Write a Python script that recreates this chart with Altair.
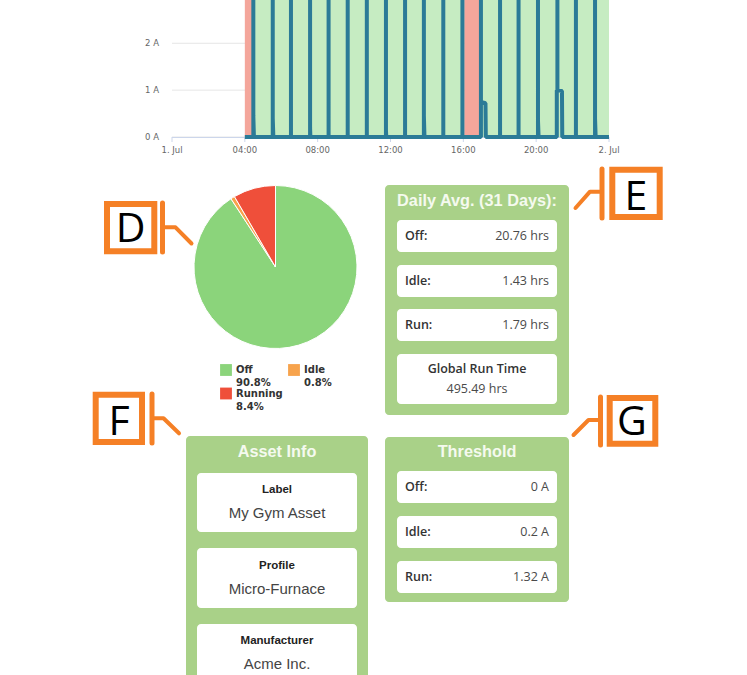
import altair as alt
import pandas as pd

# ------------------------------------------------------------------ data
DAY = "2024-07-01"

tick_hours = [0, 4, 8, 12, 16, 20, 24]
tick_labels = ["1. Jul", "04:00", "08:00", "12:00", "16:00", "20:00", "2. Jul"]

amp_ticks = [0, 1, 2, 3]
amp_labels = ["0 A", "1 A", "2 A", "3 A"]

band_start = ["04:00", "04:28", "16:03", "16:56"]
band_end = ["04:28", "16:03", "16:56", "24:00"]
band_state = ["Running", "Off", "Running", "Off"]

current_times = [
    "04:00",
    "04:28", "04:28", "04:28", "04:30",
    "05:32", "05:32", "05:32", "05:34",
    "06:32", "06:32", "06:32",
    "07:35", "07:35", "07:35", "07:36",
    "08:36", "08:36", "08:36",
    "09:39", "09:39", "09:39",
    "10:42", "10:42", "10:42",
    "11:45", "11:45", "11:45", "11:46",
    "12:48", "12:48", "12:48",
    "13:50", "13:50", "13:50", "13:52",
    "14:54", "14:54", "14:54",
    "15:57", "15:57", "15:57",
    "16:58", "16:58", "16:58", "17:13", "17:14",
    "18:01", "18:01", "18:01",
    "19:02", "19:02", "19:02",
    "20:06", "20:06", "20:06", "20:08",
    "21:08", "21:08", "21:10", "21:10", "21:10", "21:25", "21:26",
    "22:11", "22:11", "22:11",
    "23:14", "23:14", "23:14", "23:16",
    "24:00",
]
current_amps = [
    0,
    0, 40, 0.45, 0,
    0, 40, 0.4, 0,
    0, 40, 0,
    0, 40, 0.2, 0,
    0, 40, 0,
    0, 40, 0,
    0, 40, 0,
    0, 40, 0.15, 0,
    0, 40, 0,
    0, 40, 0.45, 0,
    0, 40, 0,
    0, 40, 0,
    0, 40, 0.75, 0.72, 0,
    0, 40, 0,
    0, 40, 0,
    0, 40, 0.35, 0,
    0, 1.0, 1.0, 40, 1.0, 0.98, 0,
    0, 40, 0,
    0, 40, 0.4, 0,
    0,
]

pie_states = ["Off", "Idle", "Running"]
pie_pct = [90.8, 0.8, 8.4]
pie_pct_labels = ["90.8%", "0.8%", "8.4%"]

daily_title = "Daily Avg. (31 Days):"
daily_labels = ["Off:", "Idle:", "Run:"]
daily_values = ["20.76 hrs", "1.43 hrs", "1.79 hrs"]
global_label = "Global Run Time"
global_value = "495.49 hrs"

thresh_title = "Threshold"
thresh_labels = ["Off:", "Idle:", "Run:"]
thresh_values = ["0 A", "0.2 A", "1.32 A"]

asset_title = "Asset Info"
asset_fields = ["Label", "Profile", "Manufacturer"]
asset_values = ["My Gym Asset", "Micro-Furnace", "Acme Inc."]

callout_letters = ["D", "E", "F", "G"]

# ------------------------------------------------------------------ styles
ORANGE = "#f58026"
CARD_GREEN = "#a9d188"
TEAL = "#2b7b97"
TITLE_WHITE = "#f5faef"


def ts(hhmm):
    h, m = [int(v) for v in hhmm.split(":")]
    t = pd.Timestamp(DAY) + pd.Timedelta(minutes=h * 60 + m)
    return t.strftime("%Y-%m-%dT%H:%M:%S")


T_SCALE = alt.Scale(
    domain=[alt.DateTime(year=2024, month=7, date=1, hours=0),
            alt.DateTime(year=2024, month=7, date=2, hours=0)],
    range=[172, 609], nice=False)
A_SCALE = alt.Scale(domain=[0, 3], range=[137, -3.6], nice=False, zero=False)


def PX(f):
    return alt.X(f, scale=None, axis=None)


def PY(f):
    return alt.Y(f, scale=None, axis=None)


# ------------------------------------------------------------------ top time chart
grid_df = pd.DataFrame({"amp": amp_ticks, "lab": amp_labels})
grid = alt.Chart(grid_df).mark_rule(color="#e6e6e6", strokeWidth=1).encode(
    y=alt.Y("amp:Q", scale=A_SCALE, axis=None),
    x=alt.value(172), x2=alt.value(609))

amp_text = alt.Chart(grid_df).mark_text(
    align="right", baseline="middle", font="DejaVu Sans", fontSize=8.5,
    color="#666666").encode(
    y=alt.Y("amp:Q", scale=A_SCALE, axis=None),
    x=alt.value(159), text="lab:N")

band_df = pd.DataFrame({
    "t0": [ts(s) for s in band_start],
    "t1": [ts(s) for s in band_end],
    "state": band_state})
bands = alt.Chart(band_df).mark_rect().encode(
    x=alt.X("t0:T", scale=T_SCALE, axis=None), x2="t1:T",
    y=alt.value(-5), y2=alt.value(137),
    color=alt.Color("state:N", legend=None,
                    scale=alt.Scale(domain=["Running", "Off"],
                                    range=["#f4a69b", "#c6ecc2"])))

axis_line = alt.Chart(pd.DataFrame({"k": [0]})).mark_rule(
    color="#ccd6eb", strokeWidth=1).encode(
    x=alt.value(172), x2=alt.value(609), y=alt.value(137.5))

tick_df = pd.DataFrame({
    "t": [ts(f"{h}:00") for h in tick_hours],
    "lab": tick_labels})
tick_marks = alt.Chart(tick_df).mark_rule(color="#ccd6eb", strokeWidth=1).encode(
    x=alt.X("t:T", scale=T_SCALE, axis=None),
    y=alt.value(137), y2=alt.value(142))
tick_text = alt.Chart(tick_df).mark_text(
    baseline="middle", font="DejaVu Sans", fontSize=8.5, color="#666666").encode(
    x=alt.X("t:T", scale=T_SCALE, axis=None), y=alt.value(149.5), text="lab:N")

line_df = pd.DataFrame({
    "t": [ts(s) for s in current_times],
    "amp": current_amps,
    "k": list(range(len(current_times)))})
current_line = alt.Chart(line_df).mark_line(
    color=TEAL, strokeWidth=4, strokeJoin="bevel").encode(
    x=alt.X("t:T", scale=T_SCALE, axis=None),
    y=alt.Y("amp:Q", scale=A_SCALE, axis=None),
    order="k:Q")

# ------------------------------------------------------------------ pie
pie_df = pd.DataFrame({"state": pie_states, "pct": pie_pct,
                       "idx": list(range(len(pie_states)))})
PIE_COLORS = alt.Scale(domain=pie_states, range=["#8bd47b", "#f7a34c", "#ef4f3a"])
pie = alt.Chart(pie_df).mark_arc(radius=81.5, stroke="white", strokeWidth=1).encode(
    theta=alt.Theta("pct:Q", stack=True),
    order=alt.Order("idx:Q"),
    color=alt.Color("state:N", scale=PIE_COLORS, legend=None),
    x=alt.value(275.5), y=alt.value(267))

leg_pos = [(220, 370), (288, 370), (220, 393.5)]
leg_df = pd.DataFrame({
    "state": pie_states,
    "pct": pie_pct_labels,
    "sx": [p[0] + 6 for p in leg_pos],
    "sy": [p[1] for p in leg_pos],
    "tx": [p[0] + 16 for p in leg_pos],
    "ty1": [p[1] for p in leg_pos],
    "ty2": [p[1] + 13 for p in leg_pos]})
leg_sq = alt.Chart(leg_df).mark_square(size=140, opacity=1).encode(
    x=PX("sx:Q"), y=PY("sy:Q"),
    color=alt.Color("state:N", scale=PIE_COLORS, legend=None))
leg_t1 = alt.Chart(leg_df).mark_text(
    align="left", baseline="middle", font="DejaVu Sans", fontSize=10,
    fontWeight="bold", color="#333333").encode(
    x=PX("tx:Q"), y=PY("ty1:Q"), text="state:N")
leg_t2 = alt.Chart(leg_df).mark_text(
    align="left", baseline="middle", font="DejaVu Sans", fontSize=10,
    fontWeight="bold", color="#333333").encode(
    x=PX("tx:Q"), y=PY("ty2:Q"), text="pct:N")

# ------------------------------------------------------------------ cards
cards_df = pd.DataFrame({
    "x0": [385, 385, 186], "x1": [569, 569, 368],
    "y0": [185, 437, 436], "y1": [415, 602, 720]})
cards = alt.Chart(cards_df).mark_rect(color=CARD_GREEN, cornerRadius=4).encode(
    x=PX("x0:Q"), x2="x1:Q", y=PY("y0:Q"), y2="y1:Q")

rows_df = pd.DataFrame({
    "x0": [397] * 7 + [197] * 3,
    "x1": [557] * 7 + [357] * 3,
    "y0": [220, 265, 309, 354, 471, 516, 561, 473, 548, 624],
    "y1": [252, 297, 341, 404, 503, 548, 593, 532, 608, 720]})
rows = alt.Chart(rows_df).mark_rect(color="white", cornerRadius=4).encode(
    x=PX("x0:Q"), x2="x1:Q", y=PY("y0:Q"), y2="y1:Q")

titles_df = pd.DataFrame({
    "t": [daily_title, thresh_title, asset_title],
    "x": [477, 477, 277], "y": [201, 452, 451.5]})
titles = alt.Chart(titles_df).mark_text(
    baseline="middle", font="Liberation Sans", fontSize=16.3, fontWeight="bold",
    color=TITLE_WHITE).encode(x=PX("x:Q"), y=PY("y:Q"), text="t:N")

lab_df = pd.DataFrame({
    "t": daily_labels + thresh_labels,
    "v": daily_values + thresh_values,
    "y": [236, 281, 325, 487, 532, 577]})
row_labels = alt.Chart(lab_df).mark_text(
    align="left", baseline="middle", font="Open Sans", fontSize=12.5,
    fontWeight=600, color="#333333").encode(
    x=alt.value(405), y=PY("y:Q"), text="t:N")
row_values = alt.Chart(lab_df).mark_text(
    align="right", baseline="middle", font="Open Sans", fontSize=12.5,
    color="#4a4a4a").encode(
    x=alt.value(549), y=PY("y:Q"), text="v:N")

glob_df = pd.DataFrame({"t": [global_label], "v": [global_value]})
glob_label = alt.Chart(glob_df).mark_text(
    baseline="middle", font="Open Sans", fontSize=12.5, fontWeight=600,
    color="#333333").encode(x=alt.value(477), y=alt.value(369), text="t:N")
glob_value = alt.Chart(glob_df).mark_text(
    baseline="middle", font="Open Sans", fontSize=12.5,
    color="#4a4a4a").encode(x=alt.value(477), y=alt.value(389), text="v:N")

asset_df = pd.DataFrame({
    "f": asset_fields, "v": asset_values,
    "yf": [490, 565.5, 640.5], "yv": [513, 589, 664]})
asset_f = alt.Chart(asset_df).mark_text(
    baseline="middle", font="Liberation Sans", fontSize=11.5, fontWeight="bold",
    color="#222222").encode(x=alt.value(277), y=PY("yf:Q"), text="f:N")
asset_v = alt.Chart(asset_df).mark_text(
    baseline="middle", font="Liberation Sans", fontSize=15,
    color="#444444").encode(x=alt.value(277), y=PY("yv:Q"), text="v:N")

# ------------------------------------------------------------------ callouts
box_df = pd.DataFrame({
    "x0": [107, 612.3, 95.7, 609.7], "x1": [154.3, 659.7, 142, 655.3],
    "y0": [204, 169.7, 394.7, 398], "y1": [251.3, 217, 442, 443.7]})
boxes = alt.Chart(box_df).mark_rect(
    fill="white", stroke=ORANGE, strokeWidth=6).encode(
    x=PX("x0:Q"), x2="x1:Q", y=PY("y0:Q"), y2="y1:Q")

bar_df = pd.DataFrame({
    "x": [162.5, 602, 152, 600.5],
    "y0": [203, 169, 394, 397], "y1": [252, 218, 443, 445]})
bars = alt.Chart(bar_df).mark_rule(
    color=ORANGE, strokeWidth=5, strokeCap="round").encode(
    x=PX("x:Q"), y=PY("y0:Q"), y2="y1:Q")

conn_df = pd.DataFrame({
    "id": ["D"] * 3 + ["E"] * 3 + ["F"] * 3 + ["G"] * 3,
    "k": [0, 1, 2] * 4,
    "x": [165, 175.5, 191.5, 600, 590, 575.5, 154, 163.5, 179, 598, 588.5, 573.5],
    "y": [227.3, 227.3, 243.5, 191.7, 191.7, 208, 418.3, 418.3, 433.3, 420, 420, 435]})
conns = alt.Chart(conn_df).mark_line(
    color=ORANGE, strokeWidth=4, strokeCap="round", strokeJoin="round").encode(
    x=PX("x:Q"), y=PY("y:Q"), detail="id:N", order="k:Q")

letter_df = pd.DataFrame({
    "t": callout_letters,
    "x": [130.5, 636, 119, 632],
    "y": [241.7, 210, 435, 434.5]})
letters = alt.Chart(letter_df).mark_text(
    baseline="alphabetic", font="Open Sans", fontSize=41, color="#000000").encode(
    x=PX("x:Q"), y=PY("y:Q"), text="t:N")

chart = alt.layer(
    grid, bands, axis_line, tick_marks, current_line, tick_text, amp_text,
    pie, leg_sq, leg_t1, leg_t2,
    cards, rows, titles, row_labels, row_values, glob_label, glob_value,
    asset_f, asset_v,
    boxes, bars, conns, letters,
).resolve_scale(
    x="independent", y="independent", color="independent"
).properties(
    width=747, height=675, padding=0,
    autosize=alt.AutoSizeParams(type="none"),
    background="white",
).configure_view(stroke=None)

chart.save("out.html", embed_options={"renderer": "svg", "actions": False})
